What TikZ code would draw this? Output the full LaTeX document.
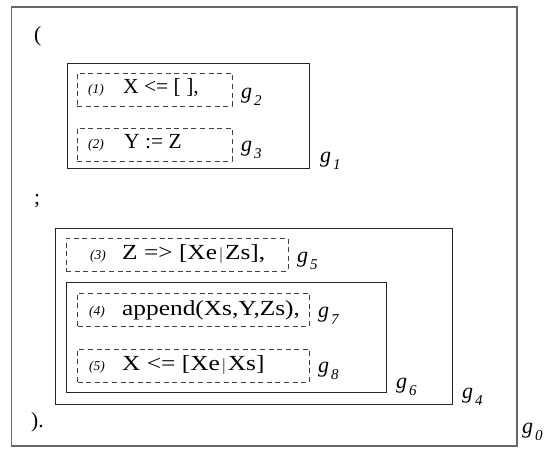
\documentclass[tikz,border=0pt]{standalone}
\usepackage{fontspec}
\setmainfont{Liberation Serif}
\newfontfamily\widefont[FakeStretch=1.18]{Liberation Serif}

% goal label: italic g with a lowered index
\newcommand{\goal}[1]{\fontsize{22}{22}\selectfont\itshape g\kern2pt\raisebox{-7pt}{\fontsize{15}{15}\selectfont #1}}
% literal number in front of a goal
\newcommand{\lit}[1]{{\fontsize{13.5}{13.5}\selectfont\itshape (#1)}}
% thin list separator
\newcommand{\lsep}{\kern2pt{\fontsize{17}{17}\selectfont\color{black!70}|}\kern2pt}

\begin{document}
\begin{tikzpicture}[x=1pt,y=-1pt,
  outerbox/.style={draw=black!60,line width=1.3pt},
  groupbox/.style={draw=black!85,line width=0.9pt,inner sep=0pt,outer sep=0pt,anchor=north west},
  litbox/.style={draw=black!75,line width=0.8pt,dash pattern=on 5pt off 3.6pt,inner sep=0pt,outer sep=0pt,anchor=north west},
  code/.style={anchor=base west,inner sep=0pt,font=\fontsize{21.5}{21.5}\selectfont},
  wcode/.style={anchor=base west,inner sep=0pt,font=\fontsize{21.5}{21.5}\selectfont\widefont},
  num/.style={anchor=base west,inner sep=0pt},
  glab/.style={anchor=base west,inner sep=0pt}]
\useasboundingbox (0,0) rectangle (549,448);

% outer clause body g0
\node[groupbox,outerbox,minimum width=505.5pt,minimum height=439pt] (g0) at (11.5,7) {};
\node[glab] (l0) at (522,433) {\goal{0}};
\node[code] (open) at (34,41) {(};
\node[code] (semi) at (34,204) {;};
\node[code] (close) at (31,427) {).};

% first disjunct g1
\node[groupbox,minimum width=242pt,minimum height=105pt] (g1) at (67,63) {};
\node[glab] (l1) at (320,162) {\goal{1}};

\node[litbox,minimum width=155pt,minimum height=33pt] (g2) at (77,73) {};
\node[num] (n1) at (88,93) {\lit{1}};
\node[code] (t1) at (123,93) {X <= [ ],};
\node[glab] (l2) at (241,98) {\goal{2}};

\node[litbox,minimum width=155pt,minimum height=33pt] (g3) at (77,128) {};
\node[num] (n2) at (88,148) {\lit{2}};
\node[code] (t2) at (124,148) {Y := Z};
\node[glab] (l3) at (241,151) {\goal{3}};

% second disjunct g4
\node[groupbox,minimum width=397pt,minimum height=176pt] (g4) at (55.5,228) {};
\node[glab] (l4) at (462,398) {\goal{4}};

\node[litbox,minimum width=222pt,minimum height=33pt] (g5) at (66,238) {};
\node[num] (n3) at (90,259) {\lit{3}};
\node[wcode] (t3) at (122,259) {Z => [Xe\lsep Zs],};
\node[glab] (l5) at (297,262) {\goal{5}};

% conjunction g6
\node[groupbox,minimum width=320pt,minimum height=110pt] (g6) at (66,282) {};
\node[glab] (l6) at (396,388) {\goal{6}};

\node[litbox,minimum width=232pt,minimum height=33pt] (g7) at (77.5,293) {};
\node[num] (n4) at (89,315) {\lit{4}};
\node[wcode] (t4) at (122,315) {append(Xs,Y,Zs),};
\node[glab] (l7) at (318,317) {\goal{7}};

\node[litbox,minimum width=232pt,minimum height=33pt] (g8) at (77.5,349) {};
\node[num] (n5) at (89,370) {\lit{5}};
\node[wcode] (t5) at (122,370) {X <= [Xe\lsep Xs]};
\node[glab] (l8) at (318,372) {\goal{8}};
\end{tikzpicture}
\end{document}
